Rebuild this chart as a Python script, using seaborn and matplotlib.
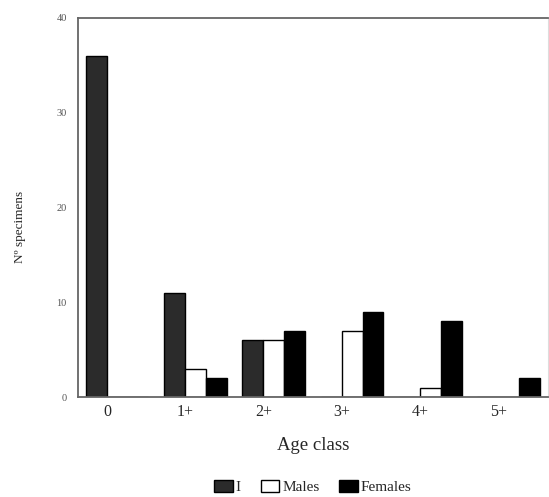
import pandas as pd
import seaborn as sns
import matplotlib.pyplot as plt
import matplotlib.transforms as mtransforms

# Dados
age_class = ["0", "1+", "2+", "3+", "4+", "5+"]
immature = [36, 11, 6, 0, 0, 0]
males = [0, 3, 6, 7, 1, 0]
females = [0, 2, 7, 9, 8, 2]
groups = ["I", "Males", "Females"]

df = pd.DataFrame({"Age class": age_class, "I": immature, "Males": males, "Females": females})
df = df.melt(id_vars="Age class", var_name="group", value_name="n")

sns.set_style("white")
plt.rcParams["font.family"] = ["Liberation Serif", "DejaVu Serif"]

fig = plt.figure(figsize=(5.49, 4.97), dpi=100)
ax = fig.add_axes([0.142, 0.201, 0.856, 0.763])

palette = {"I": "#2b2b2b", "Males": "white", "Females": "black"}
sns.barplot(data=df, x="Age class", y="n", hue="group", hue_order=groups,
            palette=palette, edgecolor="black", linewidth=1.0, width=0.8,
            saturation=1, ax=ax, legend=False)

ax.set_ylim(0, 40)
ax.set_xlim(-0.5, 5.5)
ax.set_yticks([0, 10, 20, 30, 40])
ax.tick_params(axis="y", labelsize=7.5, colors="#555555", length=0, pad=8)
ax.tick_params(axis="x", labelsize=11.5, length=0, pad=5)
offset = mtransforms.ScaledTranslation(-10 / 100, 0, fig.dpi_scale_trans)
for lab in ax.get_xticklabels():
    lab.set_transform(lab.get_transform() + offset)
ax.set_xlabel("Age class", fontsize=13.5, labelpad=12)
ax.set_ylabel("Nº specimens", fontsize=9.5)
ax.yaxis.set_label_coords(-0.11, 0.45)

for s in ["left", "bottom", "top"]:
    ax.spines[s].set_color("#666666")
    ax.spines[s].set_linewidth(1.3)
ax.spines["right"].set_color("#dddddd")
ax.spines["right"].set_linewidth(0.8)

# legenda
handles = [plt.Rectangle((0, 0), 1, 1, facecolor=palette[g], edgecolor="black") for g in groups]
fig.legend(handles, groups, loc="lower center", bbox_to_anchor=(0.57, -0.022), ncol=3,
           frameon=False, fontsize=11, handlelength=1.2, handleheight=0.9,
           handletextpad=0.2, columnspacing=1.3)

plt.savefig("out.png", dpi=100)
